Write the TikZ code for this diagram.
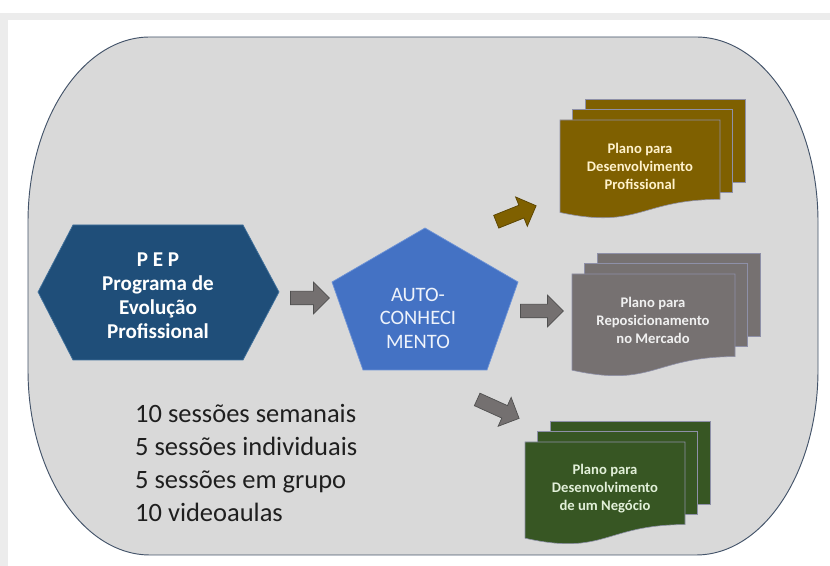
\documentclass[tikz,border=0pt]{standalone}
\usepackage{fontspec}
\setmainfont{Carlito}
\usepackage{xcolor}
\usetikzlibrary{shapes.arrows}

\definecolor{molduracinza}{HTML}{D9D9D9}
\definecolor{molduralinha}{HTML}{44546A}
\definecolor{azulpep}{HTML}{1F4E79}
\definecolor{bordapep}{HTML}{41719C}
\definecolor{azulauto}{HTML}{4472C4}
\definecolor{bordaauto}{HTML}{6E93D6}
\definecolor{marrom}{HTML}{7F6000}
\definecolor{cinzaplano}{HTML}{767171}
\definecolor{verde}{HTML}{375623}
\definecolor{cinzaseta}{HTML}{747070}
\definecolor{bordaseta}{HTML}{505050}
\definecolor{bordafolha}{HTML}{8E90A8}
\definecolor{textomarrom}{HTML}{FFF2CC}
\definecolor{textoverde}{HTML}{E2F0D9}
\definecolor{textoauto}{HTML}{EEF3FB}

% tres folhas empilhadas: x0, topo, largura, altura, cor
\newcommand{\pilhaplano}[5]{%
  \foreach \k in {2,1}{
    \filldraw[fill=#5, draw=bordafolha, line width=0.5pt]
      ({#1+12.5*\k},{#2+10.5*\k}) rectangle ++(#3,-83);
  }
  \filldraw[fill=#5, draw=bordafolha, line width=0.5pt]
    (#1,#2) -- ++(#3,0) -- ({#1+#3},{#2-0.802*#4})
    .. controls ({#1+0.5*#3},{#2-0.802*#4}) and ({#1+0.5*#3},{#2-1.1075*#4}) ..
    (#1,{#2-0.934*#4}) -- cycle;
}

\begin{document}
\begin{tikzpicture}[
    x=0.03cm, y=0.03cm,
    every node/.style={inner sep=0pt, align=center},
    seta/.style={
        single arrow,
        draw=bordaseta,
        fill=cinzaseta,
        line width=0.6pt,
        minimum width=0pt,
        inner xsep=0pt,
        inner ysep=0.195cm, % metade da largura da haste
        single arrow head extend=0.27cm
    },
    textoplano/.style={font=\bfseries\fontsize{12.5pt}{15.3pt}\selectfont}
]
\useasboundingbox (0,0) rectangle (830,566);

% --- Moldura ---
\fill[gray!15] (0,0) rectangle (830,553);
\fill[white] (8,0) rectangle (830,546);

% Fundo arredondado
\filldraw[fill=molduracinza, draw=molduralinha, line width=0.8pt]
  (150,529) -- (696,529) arc[start angle=90, end angle=0, x radius=122, y radius=185]
  -- (818,196) arc[start angle=0, end angle=-90, x radius=122, y radius=185]
  -- (150,11) arc[start angle=270, end angle=180, x radius=122, y radius=185]
  -- (28,344) arc[start angle=180, end angle=90, x radius=122, y radius=185] -- cycle;

% Hexagono e pentagono
\filldraw[fill=azulpep, draw=bordapep, line width=0.6pt]
  (38,274) -- (73,341) -- (243,341) -- (279,274) -- (243,206) -- (73,206) -- cycle;
\filldraw[fill=azulauto, draw=bordaauto, line width=0.6pt]
  (425,338) -- (518,284) -- (487,196) -- (363,196) -- (332,284) -- cycle;

% Planos
\pilhaplano{560}{446}{160}{99}{marrom}
\pilhaplano{572}{292}{163}{103}{cinzaplano}
\pilhaplano{525}{124}{160}{103}{verde}

% --- Textos ---
\node[font=\bfseries\fontsize{18pt}{20.5pt}\selectfont, text=white] (PEP) at (158,270)
  {P E P\\Programa de\\Evolução\\Profissional};
\node[font=\fontsize{17.5pt}{20pt}\selectfont, text=textoauto] (AUTO) at (418,248)
  {AUTO-\\CONHECI\\MENTO};

\node[textoplano, text=textomarrom] (PROF) at (640,400)
  {Plano para\\Desenvolvimento\\Profissional};
\node[textoplano, text=white!94!black] (MERC) at (653,246)
  {Plano para\\Reposicionamento\\no Mercado};
\node[textoplano, text=textoverde] (NEG) at (605,77)
  {Plano para\\Desenvolvimento\\de um Negócio};

\node[font=\fontsize{22.6pt}{28pt}\selectfont, text=black!88, anchor=west, align=left] (SESS) at (135,103)
  {10 sessões semanais\\5 sessões individuais\\5 sessões em grupo\\10 videoaulas};

% --- Setas ---
\node[seta, minimum height=1.17cm] (PEP-AUTO) at (306.5,268) {};
\node[seta, fill=marrom, draw=marrom!70!black, rotate=21.8, minimum height=1.29cm] (AUTO-PROF) at (513,351) {};
\node[seta, minimum height=1.29cm] (AUTO-MERC) at (538.5,255) {};
\node[seta, rotate=-24.3, minimum height=1.38cm] (AUTO-NEG) at (495,158.5) {};

\end{tikzpicture}
\end{document}
